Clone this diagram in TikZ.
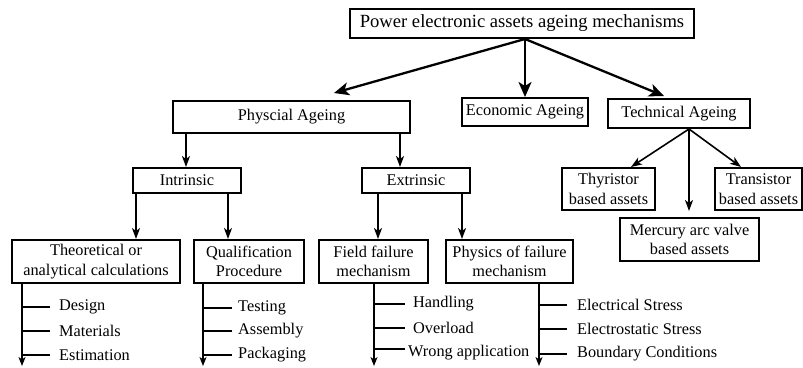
\documentclass[tikz,border=0pt]{standalone}
\usepackage{fontspec}
\newfontfamily\tnr{Liberation Serif}
\usetikzlibrary{arrows.meta,calc}
\newcommand\myfs{\tnr\fontsize{16.3}{19.5}\selectfont}
\newcommand\mytitlefs{\tnr\fontsize{18.6}{22}\selectfont}
\begin{document}
\begin{tikzpicture}[x=1pt,y=-1pt,
  box/.style={draw, line width=2pt, inner sep=0pt, align=center, font=\myfs},
  bigarrow/.style={line width=2.3pt, -{Stealth[length=15pt,width=13pt,inset=4pt]}},
  midarrow/.style={line width=1.6pt, -{Stealth[length=11pt,width=8pt,inset=3pt]}},
  listline/.style={line width=1.2pt, -{Stealth[length=9pt,width=7pt,inset=2.5pt]}},
  tick/.style={line width=1.2pt},
  item/.style={anchor=west, inner sep=0pt, font=\myfs}]
\useasboundingbox (0,0) rectangle (803,367);

% boxes
\node[box, font=\mytitlefs, minimum width=344pt, minimum height=29pt] (root) at (522,23.5) {Power electronic assets ageing mechanisms};
\node[box, minimum width=237pt, minimum height=32pt] (phys) at (291.5,117) {Physcial Ageing};
\node[box, minimum width=126pt, minimum height=28pt] (econ) at (525,112) {Economic Ageing};
\node[box, minimum width=142pt, minimum height=29pt] (tech) at (679,113.5) {Technical Ageing};
\node[box, minimum width=108pt, minimum height=25pt] (intr) at (187,180.5) {Intrinsic};
\node[box, minimum width=108pt, minimum height=25pt] (extr) at (416,180.5) {Extrinsic};
\node[box, minimum width=168pt, minimum height=43pt] (theo) at (96,261.5) {Theoretical or\\analytical calculations};
\node[box, minimum width=110pt, minimum height=43pt] (qual) at (249,261.5) {Qualification\\Procedure};
\node[box, minimum width=109pt, minimum height=43pt] (field) at (373.5,261.5) {Field failure\\mechanism};
\node[box, minimum width=127pt, minimum height=43pt] (physf) at (509.5,261.5) {Physics of failure\\mechanism};
\node[box, minimum width=93pt, minimum height=42pt] (thyr) at (608.5,189) {Thyristor\\based assets};
\node[box, minimum width=87pt, minimum height=42pt] (trans) at (758.5,189) {Transistor\\based assets};
\node[box, minimum width=139pt, minimum height=43pt] (merc) at (689.5,239.5) {Mercury arc valve\\based assets};

% top level arrows
\coordinate (r0) at ($(root.south)+(3,0)$);
\draw[bigarrow] (r0) -- ($(phys.north)+(42.5,-7)$);
\draw[bigarrow] (r0) -- (econ.north);
\draw[bigarrow] (r0) -- ($(tech.north)+(-15,-2)$);

% physical ageing
\coordinate (p1) at ($(intr.north)+(-1,0)$);
\coordinate (p2) at ($(extr.north)+(-16,0)$);
\draw[midarrow] (p1 |- phys.south) -- (p1);
\draw[midarrow] (p2 |- phys.south) -- (p2);
\coordinate (i1) at ($(intr.south west)+(4,0)$);
\coordinate (i2) at ($(intr.south east)+(-14,0)$);
\draw[midarrow] (i1) -- (i1 |- theo.north);
\draw[midarrow] (i2) -- (i2 |- qual.north);
\coordinate (e1) at ($(extr.south west)+(17,0)$);
\coordinate (e2) at ($(extr.south east)+(-9,0)$);
\draw[midarrow] (e1) -- (e1 |- field.north);
\draw[midarrow] (e2) -- (e2 |- physf.north);

% technical ageing
\coordinate (t0) at ($(tech.south)+(10,0)$);
\draw[midarrow] (t0) -- ($(thyr.north)+(22.5,0)$);
\draw[midarrow] (t0) -- ($(trans.north)+(-17.5,0)$);
\draw[midarrow, shorten >=6pt] (t0) -- (t0 |- merc.north);

% lists
\node[item] (d1) at (59,307) {Design};
\node[item] (d2) at (59,331) {Materials};
\node[item] (d3) at (59,355) {Estimation};
\coordinate (l1) at ($(theo.south west)+(11,0)$);
\coordinate (l1e) at (l1 |- 0,366);
\draw[listline] (l1) -- (l1e);
\foreach \n in {d1,d2,d3} \draw[tick, shorten >=9pt] (l1 |- \n.west) -- (\n.west);

\node[item] (q1) at (238,308) {Testing};
\node[item] (q2) at (238,331) {Assembly};
\node[item] (q3) at (238,355) {Packaging};
\coordinate (l2) at ($(qual.south west)+(10,0)$);
\coordinate (l2e) at (l2 |- 0,366);
\draw[listline] (l2) -- (l2e);
\foreach \n in {q1,q2,q3} \draw[tick, shorten >=6pt] (l2 |- \n.west) -- (\n.west);

\node[item] (f1) at (413,304) {Handling};
\node[item] (f2) at (413,328) {Overload};
\node[item] (f3) at (408,353) {Wrong application};
\coordinate (l3) at ($(field.south west)+(56,0)$);
\coordinate (l3e) at (l3 |- 0,366);
\draw[listline] (l3) -- (l3e);
\draw[tick] (l3 |- f1.west) -- ($(f1.west)+(-8,0)$);
\draw[tick] (l3 |- f2.west) -- ($(f2.west)+(-8,0)$);
\draw[tick] ($(l3 |- f3.west)+(0,-4)$) -- ($(f3.west)+(-3,-4)$);

\node[item] (s1) at (577,305) {Electrical Stress};
\node[item] (s2) at (577,329) {Electrostatic Stress};
\node[item] (s3) at (577,354) {Boundary Conditions};
\coordinate (l4) at ($(physf.south west)+(94,0)$);
\coordinate (l4e) at (l4 |- 0,366);
\draw[listline] (l4) -- (l4e);
\foreach \n in {s1,s2,s3} \draw[tick, shorten >=10pt] (l4 |- \n.west) -- (\n.west);
\end{tikzpicture}
\end{document}
